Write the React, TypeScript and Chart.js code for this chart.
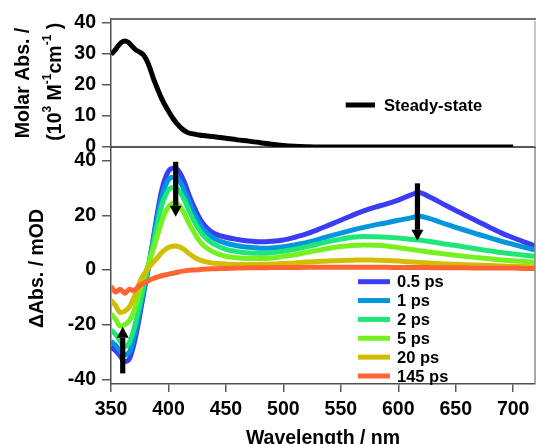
import React, { useEffect, useRef } from "react";
import { Chart, registerables } from "chart.js";

Chart.register(...registerables);

const FAMILY = '"Liberation Sans", Arial, sans-serif';

// ---------- Steady-state absorption (top panel) ----------
const ssLabel = "Steady-state";
const ssWavelength = [350, 353, 356, 359, 362, 365, 368, 371, 375, 378, 381, 384, 387, 390, 393, 396, 400, 404, 408, 412, 416, 420, 425, 430, 440, 450, 460, 470, 480, 490, 500, 510, 520, 530, 550, 600, 650, 700];
const ssMolarAbs = [29.9, 31, 32.5, 33.7, 34.2, 33.8, 32.7, 31.5, 30.6, 29.8, 28, 25.3, 22, 19.2, 16.5, 14.2, 11.6, 9.2, 7.3, 5.8, 4.8, 4.3, 4, 3.7, 3.3, 2.8, 2.3, 1.9, 1.4, 0.9, 0.5, 0.25, 0.1, 0, 0, 0, 0, 0];

// ---------- Transient absorption (bottom panel) ----------
const taWavelength = [350, 354, 358, 362, 366, 370, 374, 378, 382, 386, 390, 394, 398, 402, 406, 410, 414, 418, 422, 426, 430, 435, 440, 450, 460, 470, 480, 490, 500, 510, 520, 530, 540, 550, 560, 570, 580, 590, 600, 610, 618, 626, 634, 642, 650, 660, 670, 680, 690, 700, 710, 719];
const ta05ps = [-28, -29.5, -31.5, -33.5, -32.5, -27, -19, -9.5, -0.5, 9.5, 20, 29, 34.5, 37, 37.3, 35.5, 32, 27.3, 23.3, 19.8, 17, 14.8, 13.4, 12, 11.2, 10.6, 10.3, 10.5, 11, 12, 13.2, 14.8, 16.5, 18.2, 20, 21.6, 23, 24.2, 25.6, 27.3, 28.4, 27, 25.3, 23.5, 21.8, 19.7, 17.6, 15.5, 13.5, 11.8, 10.2, 8.8];
const ta1ps = [-26, -27.5, -29.5, -31, -30, -24.5, -17, -8.3, 0, 9, 18.5, 26.5, 31.5, 33.8, 34, 32.3, 29, 24.8, 21, 17.8, 15.2, 13, 11.5, 9.8, 8.9, 8.3, 8, 8.1, 8.5, 9.2, 10, 11.1, 12.4, 13.5, 14.6, 15.6, 16.5, 17.3, 18.2, 19, 19.7, 19, 17.9, 16.7, 15.6, 14.3, 13, 11.8, 10.5, 9.4, 8.3, 7.4];
const ta2ps = [-22, -23.5, -26, -28, -26.5, -21.5, -14.5, -6.8, 0.5, 8, 16, 23.5, 27.8, 30, 30.2, 28.6, 25.5, 21.7, 18.2, 15.2, 12.8, 10.8, 9.4, 7.6, 6.7, 6.2, 6.1, 6.3, 6.9, 7.6, 8.5, 9.5, 10.5, 11.3, 12, 12.3, 12.2, 12, 11.7, 11.3, 11, 10.5, 10, 9.4, 9, 8.3, 7.6, 7, 6.4, 5.9, 5.4, 5];
const ta5ps = [-16, -18, -20.5, -20, -18.5, -15, -9.5, -3.5, 1.5, 6.5, 12, 17.5, 21.8, 24, 24.6, 23.3, 20.5, 17, 14, 11.2, 9.2, 7.6, 6.4, 5, 4.5, 4.2, 4.2, 4.4, 5, 5.6, 6.4, 7.2, 8, 8.6, 9, 9.2, 9.1, 8.8, 8.2, 7.6, 7.1, 6.6, 6.2, 5.8, 5.4, 4.9, 4.5, 4.1, 3.7, 3.4, 3.1, 2.9];
const ta20ps = [-11, -13, -15.5, -15, -13.5, -10, -5.5, -2, 0.5, 2.5, 4.3, 6.3, 7.8, 8.6, 8.8, 8.4, 7.4, 6, 4.8, 3.9, 3.3, 2.8, 2.5, 2.2, 2, 2, 2.1, 2.2, 2.4, 2.6, 2.9, 3.1, 3.3, 3.5, 3.6, 3.7, 3.6, 3.5, 3.3, 3, 2.8, 2.6, 2.4, 2.2, 2.1, 1.9, 1.8, 1.7, 1.5, 1.4, 1.3, 1.2];
const ta145ps = [-6, -8, -7, -8.5, -7, -7.5, -6, -5, -4, -3.2, -2.6, -2.1, -1.7, -1.3, -1, -0.6, -0.3, -0.1, 0, 0.1, 0.3, 0.4, 0.5, 0.6, 0.7, 0.8, 0.8, 0.9, 0.9, 0.9, 1, 1, 1, 1, 1, 1, 1, 1, 0.9, 0.9, 0.9, 0.9, 0.8, 0.8, 0.8, 0.8, 0.7, 0.7, 0.7, 0.7, 0.6, 0.6];

const taLabels = ["0.5 ps", "1 ps", "2 ps", "5 ps", "20 ps", "145 ps"];
const taSeries = [ta05ps, ta1ps, ta2ps, ta5ps, ta20ps, ta145ps];
const taColors = ["#3c3cf5", "#0096dc", "#1ee678", "#78f020", "#d2be00", "#ff6432"];

// ---------- Ticks ----------
const xTicks = [350, 400, 450, 500, 550, 600, 650, 700];
const topYTicks = [0, 10, 20, 30, 40];
const bottomYTicks = [-40, -20, 0, 20, 40];

// ---------- Arrows (wavelength, from value, to value) ----------
const arrowWavelength = [406.3, 616.7, 360.2];
const arrowFrom = [39.6, 31.7, -37.8];
const arrowTo = [19.5, 10.7, -20.75];

const font = (size: number) => `bold ${size}px ${FAMILY}`;

type Run = { text: string; size: number; rise?: number };

function drawRotatedRuns(ctx: CanvasRenderingContext2D, runs: Run[], baselineX: number, centerY: number) {
  ctx.save();
  ctx.translate(baselineX, centerY);
  ctx.rotate(-Math.PI / 2);
  ctx.textBaseline = "alphabetic";
  ctx.textAlign = "left";
  ctx.fillStyle = "#000";
  const widths = runs.map((r) => {
    ctx.font = font(r.size);
    return ctx.measureText(r.text).width;
  });
  const total = widths.reduce((a, b) => a + b, 0);
  let x = -total / 2;
  runs.forEach((r, i) => {
    ctx.font = font(r.size);
    ctx.fillText(r.text, x, r.rise ? -r.rise : 0);
    x += widths[i];
  });
  ctx.restore();
}

function line(ctx: CanvasRenderingContext2D, x1: number, y1: number, x2: number, y2: number, color: string, w: number) {
  ctx.save();
  ctx.strokeStyle = color;
  ctx.lineWidth = w;
  ctx.beginPath();
  ctx.moveTo(x1, y1);
  ctx.lineTo(x2, y2);
  ctx.stroke();
  ctx.restore();
}

function drawArrow(ctx: CanvasRenderingContext2D, x: number, yFrom: number, yTo: number) {
  const dir = yTo > yFrom ? 1 : -1;
  const headLen = 11;
  const headHalf = 6;
  const shaftHalf = 2.6;
  const yBase = yTo - dir * headLen;
  ctx.save();
  ctx.fillStyle = "#000";
  ctx.fillRect(x - shaftHalf, Math.min(yFrom, yBase), shaftHalf * 2, Math.abs(yBase - yFrom));
  ctx.beginPath();
  ctx.moveTo(x - headHalf, yBase);
  ctx.lineTo(x + headHalf, yBase);
  ctx.lineTo(x, yTo);
  ctx.closePath();
  ctx.fill();
  ctx.restore();
}

const TICK_LEN = 9;
const TICK_PAD = 6;
const tickFont = { family: FAMILY, size: 19.5, weight: "bold" as const };

export default function App() {
  const topRef = useRef<HTMLCanvasElement | null>(null);
  const botRef = useRef<HTMLCanvasElement | null>(null);

  useEffect(() => {
    if (!topRef.current || !botRef.current) return;

    const topDecor = {
      id: "topDecor",
      afterDraw(chart: any) {
        const ctx = chart.ctx as CanvasRenderingContext2D;
        const a = chart.chartArea;
        const ys = chart.scales.y;
        line(ctx, a.left, a.top, 536, a.top, "#707070", 2);
        line(ctx, a.right, a.top + 2, a.right, a.bottom, "#b4b4b4", 1.5);
        // y tick labels (from the scale's own ticks)
        ctx.save();
        ctx.font = font(19.5);
        ctx.fillStyle = "#000";
        ctx.textAlign = "right";
        ctx.textBaseline = "middle";
        ys.ticks.forEach((t: any) => {
          ctx.fillText(String(t.label), ys.right - TICK_LEN - TICK_PAD, ys.getPixelForValue(t.value));
        });
        ctx.restore();
        // legend
        const ly = 105;
        line(ctx, 345.7, ly, 375, ly, "#000", 5);
        ctx.save();
        ctx.font = font(16.5);
        ctx.fillStyle = "#000";
        ctx.textBaseline = "alphabetic";
        ctx.textAlign = "left";
        ctx.fillText(ssLabel, 384, ly + 6);
        ctx.restore();
        // y title
        drawRotatedRuns(ctx, [{ text: "Molar Abs. /", size: 19.5 }], 28.5, 83);
        drawRotatedRuns(
          ctx,
          [
            { text: "(10", size: 19.5 },
            { text: "3", size: 12, rise: 10.4 },
            { text: " M", size: 19.5 },
            { text: "-1", size: 12, rise: 10.4 },
            { text: "cm", size: 19.5 },
            { text: "-1", size: 12, rise: 10.4 },
            { text: " )", size: 19.5 },
          ],
          61,
          81.7
        );
      },
    };

    const botDecor = {
      id: "botDecor",
      afterDraw(chart: any) {
        const ctx = chart.ctx as CanvasRenderingContext2D;
        const a = chart.chartArea;
        const xs = chart.scales.x;
        const ys = chart.scales.y;
        line(ctx, a.right, a.top, a.right, a.bottom, "#8a8a8a", 1.5);
        line(ctx, a.left, a.top, 536, a.top, "#222", 1.6);
        // arrows
        arrowWavelength.forEach((w, i) => {
          drawArrow(ctx, xs.getPixelForValue(w), ys.getPixelForValue(arrowFrom[i]), ys.getPixelForValue(arrowTo[i]));
        });
        // legend
        ctx.save();
        ctx.font = font(16.5);
        ctx.fillStyle = "#000";
        ctx.textAlign = "left";
        ctx.textBaseline = "alphabetic";
        taLabels.forEach((lab, i) => {
          const y = 281.7 + i * 18.86;
          line(ctx, 358, y, 390, y, taColors[i], 5);
          ctx.fillText(lab, 397, y + 5.5);
        });
        ctx.restore();
        // x title
        ctx.save();
        ctx.font = font(19.5);
        ctx.fillStyle = "#000";
        ctx.textAlign = "center";
        ctx.textBaseline = "alphabetic";
        ctx.fillText("Wavelength / nm", (a.left + a.right) / 2, 443.7);
        ctx.restore();
        // y title
        drawRotatedRuns(ctx, [{ text: "\u0394Abs. / mOD", size: 19.5 }], 42.5, 268.5);
      },
    };

    const yAxisCommon = (ticks: number[], showLabels: boolean) => ({
      type: "linear" as const,
      afterFit: (s: any) => {
        s.width = 111;
        s.paddingTop = 0;
        s.paddingBottom = 0;
      },
      afterBuildTicks: (s: any) => {
        s.ticks = ticks.map((v) => ({ value: v }));
      },
      ticks: { display: showLabels, font: tickFont, color: "#000", padding: TICK_PAD, autoSkip: false },
      grid: { drawOnChartArea: false, drawTicks: true, tickLength: TICK_LEN, color: "#5a5a5a", lineWidth: 1.5 },
      border: { display: true, color: "#505050", width: 1.5 },
    });

    const bottom = new Chart(botRef.current, {
      type: "line",
      data: {
        datasets: taSeries.map((s, i) => ({
          label: taLabels[i],
          data: taWavelength.map((x, j) => ({ x, y: s[j] })),
          borderColor: taColors[i],
          backgroundColor: taColors[i],
          borderWidth: 5,
          pointRadius: 0,
          cubicInterpolationMode: "monotone",
          fill: false,
          order: taSeries.length - i,
        })),
      },
      options: {
        responsive: false,
        animation: false,
        events: [],
        layout: { padding: { left: 0, top: 147, right: 1, bottom: 0 } },
        plugins: { legend: { display: false }, tooltip: { enabled: false } },
        scales: {
          x: {
            type: "linear",
            min: 350,
            max: 719,
            afterFit: (s: any) => {
              s.height = 60.5;
              s.paddingLeft = 0;
              s.paddingRight = 0;
            },
            afterBuildTicks: (s: any) => {
              s.ticks = xTicks.map((v) => ({ value: v }));
            },
            ticks: { font: tickFont, color: "#000", padding: 6, maxRotation: 0, autoSkip: false },
            grid: { drawOnChartArea: false, drawTicks: true, tickLength: 8.5, color: "#5a5a5a", lineWidth: 1.5 },
            border: { display: true, color: "#505050", width: 1.5 },
          },
          y: { ...yAxisCommon(bottomYTicks, true), min: -41.5, max: 45 },
        },
      } as any,
      plugins: [botDecor],
    });

    const top = new Chart(topRef.current, {
      type: "line",
      data: {
        datasets: [
          {
            label: ssLabel,
            data: ssWavelength.map((x, i) => ({ x, y: ssMolarAbs[i] })),
            borderColor: "#000",
            borderWidth: 5,
            pointRadius: 0,
            cubicInterpolationMode: "monotone",
            fill: false,
          },
        ],
      },
      options: {
        responsive: false,
        animation: false,
        events: [],
        layout: { padding: { left: 0, top: 19, right: 1, bottom: 297 } },
        plugins: { legend: { display: false }, tooltip: { enabled: false } },
        scales: {
          x: { type: "linear", min: 350, max: 719, display: false },
          y: { ...yAxisCommon(topYTicks, false), min: 0, max: 41.3 },
        },
      } as any,
      plugins: [topDecor],
    });

    return () => {
      top.destroy();
      bottom.destroy();
    };
  }, []);

  return (
    <div style={{ position: "fixed", left: 0, top: 0, width: 536, height: 444, background: "#fff" }}>
      <canvas ref={botRef} width={536} height={444} style={{ position: "absolute", left: 0, top: 0 }} />
      <canvas ref={topRef} width={536} height={444} style={{ position: "absolute", left: 0, top: 0 }} />
    </div>
  );
}
